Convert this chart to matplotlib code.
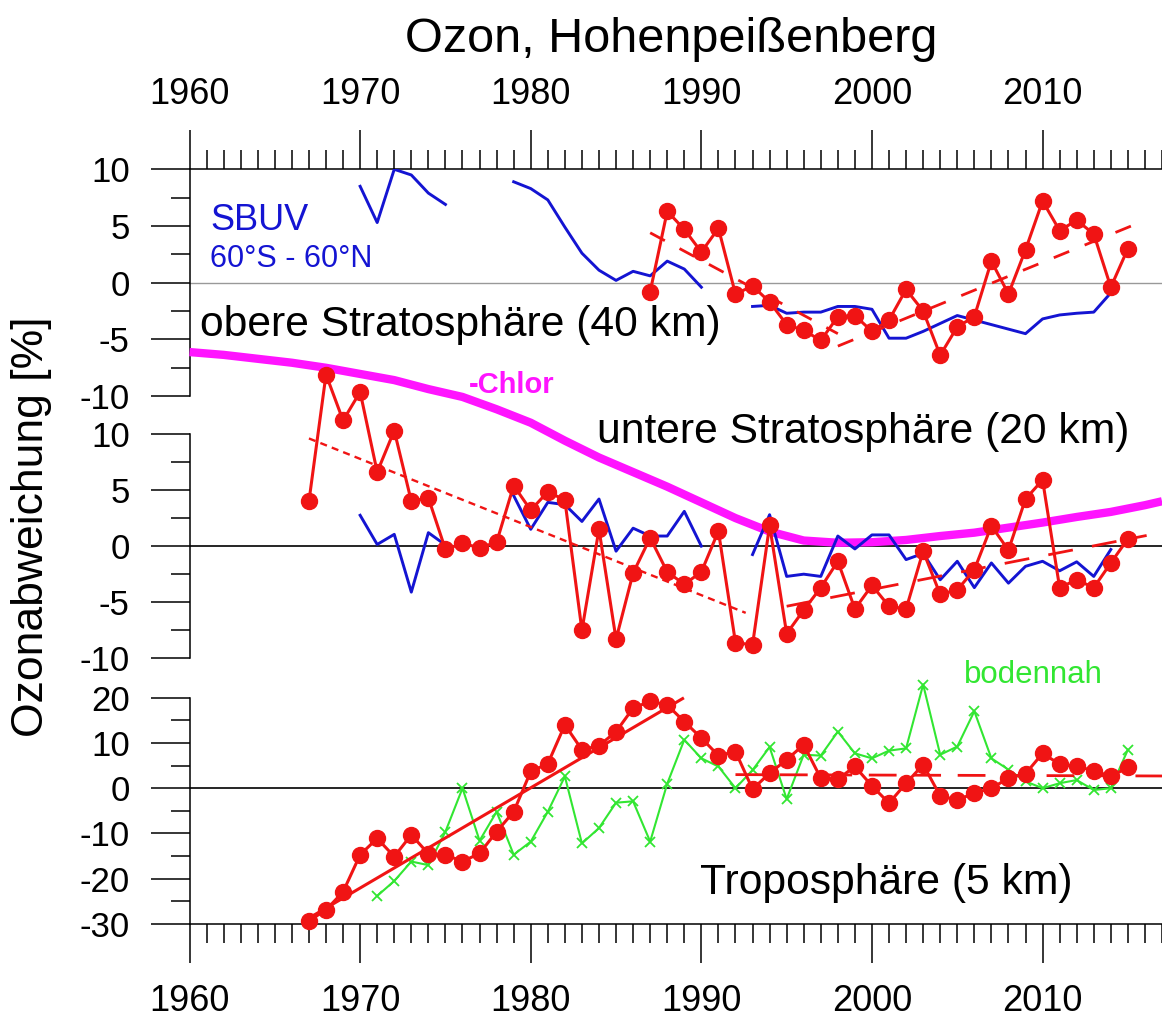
import numpy as np
import matplotlib
matplotlib.use("Agg")
import matplotlib.pyplot as plt
from matplotlib.ticker import MultipleLocator

plt.rcParams['font.family'] = ['Liberation Sans', 'DejaVu Sans']
plt.rcParams['axes.unicode_minus'] = False

# --- obere Stratosphaere (40 km) ---
yrs_40 = np.arange(1987, 2016)
hpb_40 = [-0.8, 6.3, 4.7, 2.7, 4.8, -1.0, -0.3, -1.7, -3.7, -4.2, -5.1, -3.0, -2.9,
          -4.3, -3.3, -0.6, -2.5, -6.4, -3.9, -3.0, 1.9, -1.0, 2.9, 7.2, 4.6, 5.5,
          4.3, -0.4, 3.0]
sbuv40_yrs_a = np.arange(1970, 1976)
sbuv40_a = [8.5, 5.3, 10.0, 9.5, 7.9, 6.9]
sbuv40_yrs_b = np.arange(1979, 1991)
sbuv40_b = [8.9, 8.3, 7.3, 4.9, 2.6, 1.1, 0.2, 1.0, 0.6, 1.9, 1.2, -0.4]
sbuv40_yrs_c = np.arange(1993, 2015)
sbuv40_c = [-2.1, -2.0, -2.7, -2.6, -2.6, -2.1, -2.1, -2.35, -4.9, -4.9, -4.3,
            -3.6, -2.9, -3.3, -3.7, -4.1, -4.5, -3.2, -2.85, -2.7, -2.6, -0.9]
trend40_a = ([1987, 1998], [4.4, -4.5])
trend40_b = ([1998, 2015.2], [-5.6, 5.0])

# --- untere Stratosphaere (20 km) ---
yrs_20 = np.arange(1967, 2016)
hpb_20 = [4.0, 15.3, 11.2, 13.75, 6.6, 10.3, 4.0, 4.3, -0.3, 0.25, -0.15, 0.35,
          5.4, 3.2, 4.85, 4.1, -7.5, 1.5, -8.3, -2.4, 0.74, -2.3, -3.4, -2.3, 1.34,
          -8.6, -8.8, 1.85, -7.8, -5.7, -3.7, -1.35, -5.6, -3.5, -5.36, -5.6, -0.45,
          -4.3, -3.9, -2.1, 1.8, -0.36, 4.2, 5.9, -3.7, -3.0, -3.7, -1.5, 0.65]
sbuv20_yrs_a = np.arange(1970, 1976)
sbuv20_a = [2.75, 0.15, 1.05, -4.1, 1.2, 0.1]
sbuv20_yrs_b = np.arange(1979, 1991)
sbuv20_b = [4.5, 1.5, 3.9, 3.7, 2.2, 4.2, -0.45, 1.6, 0.9, 0.9, 3.1, 0.0]
sbuv20_yrs_c = np.arange(1993, 2015)
sbuv20_c = [-0.75, 2.8, -2.7, -2.5, -2.7, 0.9, -0.25, 1.0, 1.0, -1.2, -0.65,
            -3.0, -1.35, -3.7, -1.5, -3.3, -1.8, -1.35, -2.2, -1.4, -2.7, -0.3]
trend20_a = ([1967, 1992.6], [9.6, -5.95])
trend20_b = ([1995, 2016.1], [-5.36, 0.95])

# negative chlorine loading, scaled to the 20 km panel
chlor_yrs = [1960, 1962, 1964, 1966, 1968, 1970, 1972, 1974, 1976, 1978, 1980,
             1982, 1984, 1986, 1988, 1990, 1992, 1994, 1996, 1998, 2000, 2002,
             2004, 2006, 2008, 2010, 2012, 2014, 2016, 2017]
chlor = [17.3, 17.05, 16.7, 16.35, 15.9, 15.35, 14.8, 14.0, 13.3, 12.2, 11.0,
         9.4, 7.9, 6.6, 5.3, 3.9, 2.5, 1.3, 0.5, 0.3, 0.35, 0.55, 0.9, 1.2, 1.65,
         2.1, 2.6, 3.05, 3.65, 4.0]

# --- Troposphaere (5 km) ---
yrs_5 = np.arange(1967, 2016)
hpb_5 = [-29.3, -26.9, -22.9, -14.7, -11.1, -15.1, -10.3, -14.5, -14.7, -16.2,
         -14.4, -9.6, -5.2, 3.7, 5.4, 14.0, 8.5, 9.4, 12.5, 17.7,
         19.2, 18.4, 14.7, 11.1, 7.2, 8.1, -0.2, 3.3, 6.3, 9.6,
         2.2, 2.0, 4.8, 0.5, -3.3, 1.1, 5.2, -1.7, -2.6, -1.1,
         0.0, 2.2, 3.2, 7.7, 5.3, 4.8, 3.9, 2.6, 4.6]
yrs_boden = np.arange(1971, 2016)
boden = [-23.8, -20.5, -16.2, -17.0, -9.6, 0.0, -11.6, -5.2, -14.7, -11.8,
         -5.2, 2.6, -12.2, -8.8, -3.2, -2.9, -11.8, 1.0, 10.7, 6.6,
         4.8, 0.0, 4.0, 9.1, -2.4, 7.4, 7.2, 12.5, 7.7, 6.6,
         8.3, 8.8, 22.9, 7.4, 9.2, 17.0, 6.6, 4.1, 1.5, 0.0,
         1.1, 1.8, -0.4, 0.0, 8.5]
trend5_a = ([1967, 1988.9], [-28.7, 19.8])
trend5_b = ([1992, 2017], [3.0, 2.7])

RED = '#f01414'
BLUE = '#1414d2'
MAGENTA = '#ff14ff'
GREEN = '#32e632'

fig = plt.figure(figsize=(11.62, 10.23), dpi=100)
ax1 = fig.add_axes([0.1631, 0.6129, 0.8369, 0.2216])
ax2 = fig.add_axes([0.1631, 0.3565, 0.8369, 0.2193])
ax3 = fig.add_axes([0.1631, 0.0968, 0.8369, 0.2212])

for ax in (ax1, ax2, ax3):
    ax.patch.set_visible(False)
    ax.set_xlim(1960, 2017)
    ax.spines['right'].set_visible(False)
    ax.yaxis.set_minor_locator(MultipleLocator(2.5))
    ax.tick_params(axis='y', which='major', direction='out', length=28,
                   width=1.1, pad=15, labelsize=25)
    ax.tick_params(axis='y', which='minor', direction='out', length=14, width=1.1)
    ax.spines['left'].set_linewidth(1.1)

# top panel: year axis on top
ax1.spines['bottom'].set_visible(False)
ax1.spines['top'].set_linewidth(1.1)
ax1.xaxis.tick_top()
ax1.set_xticks(range(1960, 2011, 10))
ax1.xaxis.set_minor_locator(MultipleLocator(1))
ax1.tick_params(axis='x', which='major', direction='out', length=28, width=1.1,
                pad=13, labelsize=26)
ax1.tick_params(axis='x', which='minor', direction='out', length=14, width=1.1)
ax1.set_ylim(-10, 10)
ax1.set_yticks([-10, -5, 0, 5, 10])

ax2.spines['top'].set_visible(False)
ax2.spines['bottom'].set_visible(False)
ax2.xaxis.set_visible(False)
ax2.set_ylim(-10, 10)
ax2.set_yticks([-10, -5, 0, 5, 10])

ax3.spines['top'].set_visible(False)
ax3.spines['bottom'].set_linewidth(1.1)
ax3.set_xticks(range(1960, 2011, 10))
ax3.xaxis.set_minor_locator(MultipleLocator(1))
ax3.tick_params(axis='x', which='major', direction='out', length=28, width=1.1,
                pad=15, labelsize=26)
ax3.tick_params(axis='x', which='minor', direction='out', length=14, width=1.1)
ax3.set_ylim(-30, 20)
ax3.set_yticks([-30, -20, -10, 0, 10, 20])
ax3.yaxis.set_minor_locator(MultipleLocator(5))

# zero lines
ax1.axhline(0, color='#999999', lw=1.0, zorder=1)
ax2.axhline(0, color='black', lw=1.2, zorder=1)
ax3.axhline(0, color='black', lw=1.2, zorder=1)

red_kw = dict(color=RED, lw=2.2, marker='o', ms=11.5, zorder=5, clip_on=False)

# 40 km
for yy, vv in ((sbuv40_yrs_a, sbuv40_a), (sbuv40_yrs_b, sbuv40_b), (sbuv40_yrs_c, sbuv40_c)):
    ax1.plot(yy, vv, color=BLUE, lw=2.1, zorder=3)
ax1.plot(*trend40_a, color=RED, lw=2.0, dashes=(6, 6), zorder=4)
ax1.plot(*trend40_b, color=RED, lw=2.0, dashes=(6, 6), zorder=4)
ax1.plot(yrs_40, hpb_40, **red_kw)

# 20 km
ax2.plot(chlor_yrs, chlor, color=MAGENTA, lw=6, zorder=2, clip_on=False,
         solid_capstyle='butt')
for yy, vv in ((sbuv20_yrs_a, sbuv20_a), (sbuv20_yrs_b, sbuv20_b), (sbuv20_yrs_c, sbuv20_c)):
    ax2.plot(yy, vv, color=BLUE, lw=2.1, zorder=3)
ax2.plot(*trend20_a, color=RED, lw=1.7, dashes=(3, 2.2), zorder=4)
ax2.plot(*trend20_b, color=RED, lw=2.0, dashes=(9, 7), zorder=4)
ax2.plot(yrs_20, hpb_20, **red_kw)

# 5 km
ax3.plot(yrs_boden, boden, color=GREEN, lw=1.5, marker='x', ms=7.5, mew=1.3,
         zorder=3, clip_on=False)
ax3.plot(*trend5_a, color=RED, lw=2.2, zorder=4, clip_on=False)
ax3.plot(*trend5_b, color=RED, lw=2.0, dashes=(10, 6), zorder=4)
ax3.plot(yrs_5, hpb_5, **red_kw)

# labels
ax1.text(1960.6, -3.7, 'obere Stratosphäre (40 km)', fontsize=30.7, va='center', ha='left')
ax1.text(1961.2, 5.45, 'SBUV', fontsize=26, color=BLUE, va='center', ha='left')
ax1.text(1961.2, 2.1, '60°S - 60°N', fontsize=22, color=BLUE, va='center', ha='left')
ax2.text(1983.9, 10.2, 'untere Stratosphäre (20 km)', fontsize=30.7, va='center', ha='left')
ax2.text(1976.4, 14.4, '-Chlor', fontsize=21, color=MAGENTA, fontweight='bold',
         va='center', ha='left')
ax3.text(1989.9, -21, 'Troposphäre (5 km)', fontsize=30.7, va='center', ha='left')
ax3.text(2005.4, 25.1, 'bodennah', fontsize=22.5, color=GREEN, va='center', ha='left')

fig.text(0.5775, 1 - 40 / 1023, 'Ozon, Hohenpeißenberg', fontsize=35,
         ha='center', va='center')
fig.text(32 / 1162, 1 - 527 / 1023, 'Ozonabweichung [%]', fontsize=32,
         rotation=90, ha='center', va='center')

fig.savefig('out.png', dpi=100)
